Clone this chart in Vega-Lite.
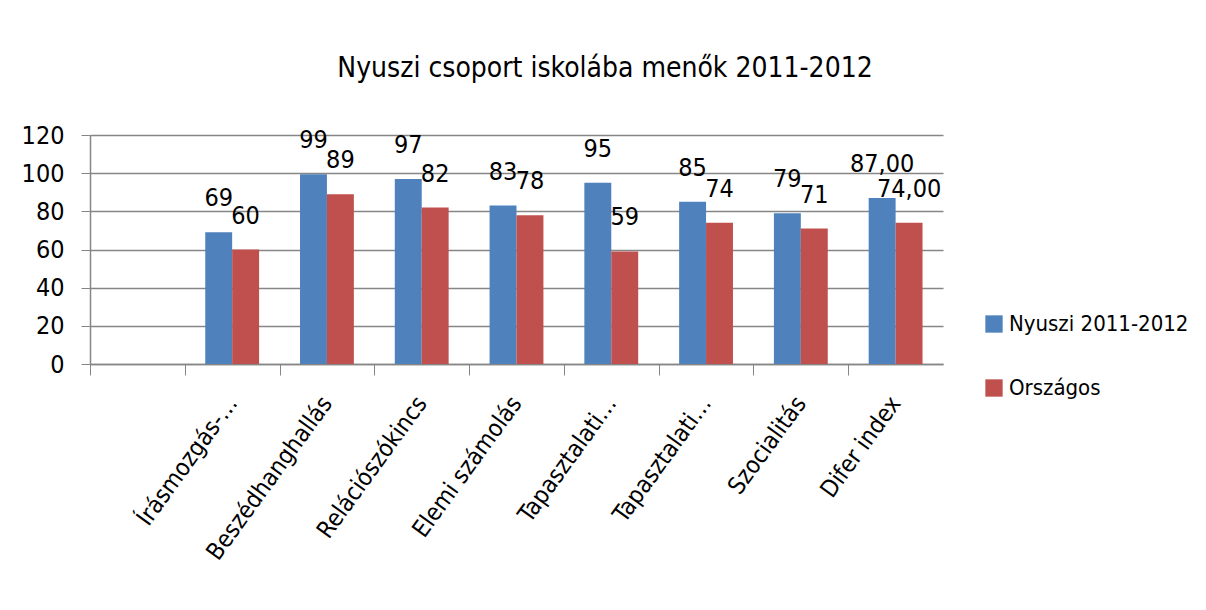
{
  "$schema": "https://vega.github.io/schema/vega-lite/v6.json",
  "width": 853,
  "height": 229,
  "autosize": {"type": "none"},
  "padding": {"left": 90, "top": 135, "right": 263, "bottom": 246},
  "background": "white",
  "config": {
    "font": "DejaVu Sans Condensed",
    "view": {"stroke": null}
  },
  "title": {
    "text": "Nyuszi csoport iskolába menők 2011-2012",
    "fontSize": 28,
    "fontWeight": "normal",
    "color": "black",
    "anchor": "middle",
    "frame": "bounds",
    "offset": 40
  },
  "data": {
    "values": [
      {"cat": "Írásmozgás-koordináció", "series": "Nyuszi 2011-2012", "value": 69, "label": "69"},
      {"cat": "Írásmozgás-koordináció", "series": "Országos", "value": 60, "label": "60"},
      {"cat": "Beszédhanghallás", "series": "Nyuszi 2011-2012", "value": 99.4, "label": "99"},
      {"cat": "Beszédhanghallás", "series": "Országos", "value": 89, "label": "89"},
      {"cat": "Relációszókincs", "series": "Nyuszi 2011-2012", "value": 97, "label": "97"},
      {"cat": "Relációszókincs", "series": "Országos", "value": 82, "label": "82"},
      {"cat": "Elemi számolás", "series": "Nyuszi 2011-2012", "value": 83, "label": "83"},
      {"cat": "Elemi számolás", "series": "Országos", "value": 78, "label": "78"},
      {"cat": "Tapasztalati következtetés", "series": "Nyuszi 2011-2012", "value": 95, "label": "95"},
      {"cat": "Tapasztalati következtetés", "series": "Országos", "value": 59, "label": "59"},
      {"cat": "Tapasztalati összefüggés-megértés", "series": "Nyuszi 2011-2012", "value": 85, "label": "85"},
      {"cat": "Tapasztalati összefüggés-megértés", "series": "Országos", "value": 74, "label": "74"},
      {"cat": "Szocialitás", "series": "Nyuszi 2011-2012", "value": 79, "label": "79"},
      {"cat": "Szocialitás", "series": "Országos", "value": 71, "label": "71"},
      {"cat": "Difer index", "series": "Nyuszi 2011-2012", "value": 87, "label": "87,00"},
      {"cat": "Difer index", "series": "Országos", "value": 74, "label": "74,00"}
    ]
  },
  "encoding": {
    "x": {
      "field": "cat",
      "type": "nominal",
      "sort": null,
      "scale": {
        "domain": ["(üres)", "Írásmozgás-koordináció", "Beszédhanghallás", "Relációszókincs", "Elemi számolás", "Tapasztalati következtetés", "Tapasztalati összefüggés-megértés", "Szocialitás", "Difer index"],
        "paddingInner": 0,
        "paddingOuter": 0
      },
      "axis": {
        "title": null,
        "ticks": true,
        "tickOffset": -47.4,
        "labelOffset": 47.4,
        "tickSize": 11,
        "tickColor": "#868686",
        "domainColor": "#868686",
        "domainWidth": 1.5,
        "labelAngle": -54,
        "labelAlign": "right",
        "labelBaseline": "middle",
        "labelFontSize": 24,
        "labelColor": "black",
        "labelPadding": 24,
        "labelLimit": 400,
        "labelExpr": "datum.value == '(üres)' ? '' : datum.value == 'Írásmozgás-koordináció' ? 'Írásmozgás-…' : (indexof(datum.value, 'Tapasztalati') == 0 ? 'Tapasztalati…' : datum.value)"
      }
    },
    "xOffset": {
      "field": "series",
      "type": "nominal",
      "scale": {"paddingOuter": 0.76, "paddingInner": 0}
    },
    "y": {
      "field": "value",
      "type": "quantitative",
      "scale": {"domain": [0, 120], "nice": false},
      "axis": {
        "title": null,
        "values": [0, 20, 40, 60, 80, 100, 120],
        "grid": true,
        "gridColor": "#868686",
        "gridWidth": 1.5,
        "domain": true,
        "domainColor": "#868686",
        "domainWidth": 1.5,
        "tickColor": "#868686",
        "tickSize": 9,
        "labelFontSize": 25,
        "labelColor": "black",
        "labelPadding": 17
      }
    }
  },
  "layer": [
    {
      "mark": {"type": "bar"},
      "encoding": {
        "color": {
          "field": "series",
          "type": "nominal",
          "scale": {"domain": ["Nyuszi 2011-2012", "Országos"], "range": ["#4F81BD", "#C0504D"]},
          "legend": {
            "title": null,
            "orient": "none",
            "legendX": 893,
            "legendY": 178,
            "symbolType": "square",
            "symbolSize": 300,
            "symbolStrokeWidth": 0,
            "labelFontSize": 22,
            "labelColor": "black",
            "labelLimit": 400,
            "rowPadding": 42,
            "labelOffset": 4
          }
        }
      }
    },
    {
      "mark": {"type": "text", "dy": -34, "baseline": "middle", "align": "center", "fontSize": 25, "color": "black"},
      "encoding": {
        "text": {"field": "label"}
      }
    }
  ]
}
